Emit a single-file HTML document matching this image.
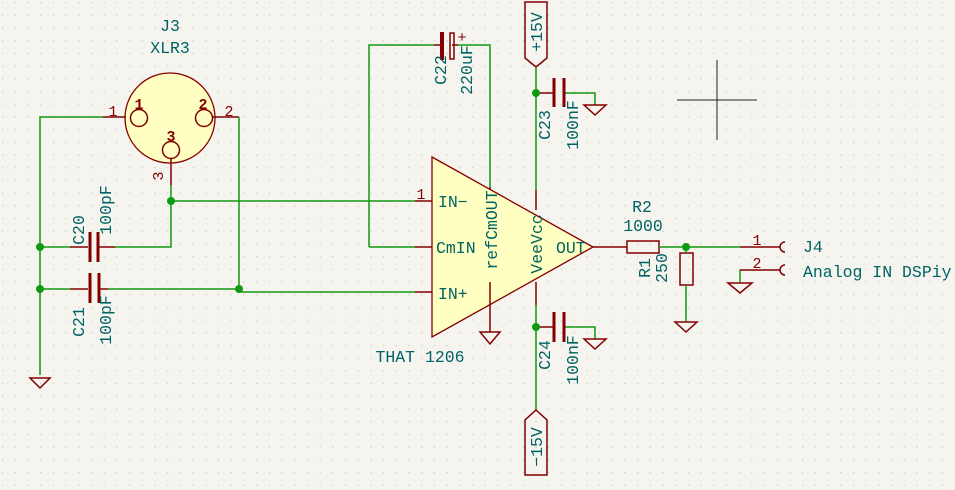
<!DOCTYPE html>
<html><head><meta charset="utf-8"><style>
html,body{margin:0;padding:0;background:#f5f4ef;}
svg{display:block;font-family:"Liberation Mono","DejaVu Sans Mono",monospace;}
.w{stroke:#109a10;stroke-width:1.5;fill:none}
.r{stroke:#840000;stroke-width:1.5;fill:none}
.t{fill:#006464;font-size:16.5px}
.p{fill:#840000;font-size:15px}
</style></head><body>
<svg width="955" height="490" viewBox="0 0 955 490" xmlns="http://www.w3.org/2000/svg">
<defs><pattern id="g" width="12.7" height="12.7" patternUnits="userSpaceOnUse" x="2" y="2"><rect width="1.2" height="1.2" fill="#c8c8c0"/></pattern></defs>
<rect width="955" height="490" fill="#f5f4ef"/>
<rect width="955" height="490" fill="url(#g)"/>

<!-- XLR3 -->
<text class="t" x="170" y="31" text-anchor="middle">J3</text>
<text class="t" x="170" y="53" text-anchor="middle">XLR3</text>
<circle cx="170" cy="118" r="45" fill="#ffffc2" stroke="#840000" stroke-width="1.3"/>
<circle cx="139" cy="118" r="8.5" class="r"/>
<circle cx="204" cy="118" r="8.5" class="r"/>
<circle cx="171" cy="150" r="8.5" class="r"/>
<text x="139" y="109" text-anchor="middle" fill="#840000" font-size="15" font-weight="bold">1</text>
<text x="203" y="109" text-anchor="middle" fill="#840000" font-size="15" font-weight="bold">2</text>
<text x="171" y="141" text-anchor="middle" fill="#840000" font-size="15" font-weight="bold">3</text>
<text class="p" x="113" y="116" text-anchor="middle">1</text>
<text class="p" x="229" y="116" text-anchor="middle">2</text>
<text class="p" transform="translate(163,176) rotate(-90)" text-anchor="middle">3</text>
<path class="r" d="M103 117H126M213 117H239M171 159V185"/>
<path class="w" d="M103 117H40V375M239 117V290M171 185V247H115M40 247H70M40 289H70M108 289H239M171 201H415M239 292H415M369 247H415M369 247V45H434M458 45H490V187"/>
<path class="r" d="M415 201H432M415 247H432M415 292H432M70 247H88M98 247H115M70 289H88M99 289H108M434 45H442M452 45H458"/>
<circle cx="40" cy="247" r="4" fill="#109a10"/>
<circle cx="40" cy="289" r="4" fill="#109a10"/>
<circle cx="239" cy="289" r="4" fill="#109a10"/>
<circle cx="171" cy="201" r="4" fill="#109a10"/>
<path class="r" d="M30 378H50L40 388Z"/>
<!-- C20 / C21 -->
<path stroke="#840000" stroke-width="3" d="M90 232V262M98 232V262M90 273V303M99 273V303"/>
<text class="t" transform="translate(84,230) rotate(-90)" text-anchor="middle">C20</text>
<text class="t" transform="translate(111,210) rotate(-90)" text-anchor="middle">100pF</text>
<text class="t" transform="translate(84,322) rotate(-90)" text-anchor="middle">C21</text>
<text class="t" transform="translate(111,320) rotate(-90)" text-anchor="middle">100pF</text>
<!-- C22 -->
<rect x="440" y="32" width="4" height="28" fill="#840000"/>
<rect x="450" y="33" width="4" height="26" class="r" stroke-width="1.2"/>
<text class="p" x="462" y="42" font-size="11" text-anchor="middle">+</text>
<text class="t" transform="translate(446,70) rotate(-90)" text-anchor="middle">C22</text>
<text class="t" transform="translate(472,70) rotate(-90)" text-anchor="middle">220uF</text>

<!-- Opamp -->
<path d="M432 157L593 247L432 337Z" fill="#ffffc2" stroke="#840000" stroke-width="1.3"/>
<text class="t" x="438" y="207">IN−</text>
<text class="t" x="436" y="253">CmIN</text>
<text class="t" x="438" y="299">IN+</text>
<text class="t" transform="translate(497,230) rotate(-90)" text-anchor="middle">refCmOUT</text>
<text class="t" transform="translate(542,244) rotate(-90)" text-anchor="middle">VeeVcc</text>
<text class="t" x="556" y="253">OUT</text>
<text class="p" x="421" y="199" text-anchor="middle">1</text>
<text class="t" x="420" y="362" text-anchor="middle">THAT 1206</text>
<path class="r" d="M490 187V190M490 282V332M480 332H500L490 344Z"/>

<!-- +15V -->
<path class="r" d="M525 2H547V58L536 67L525 58Z"/>
<text class="t" transform="translate(542,32) rotate(-90)" text-anchor="middle">+15V</text>
<path class="w" d="M536 67V190M536 305V410M563 93H595V105M563 327H595V339"/>
<path class="r" d="M536 190V210M536 282V305M536 93H553M536 327H553"/>
<path stroke="#840000" stroke-width="3" d="M554 78V107M564 78V107M554 312V342M564 312V342"/>
<path class="r" d="M584 105H606L595 115ZM584 339H606L595 349Z"/>
<circle cx="536" cy="93" r="4" fill="#109a10"/>
<circle cx="536" cy="327" r="4" fill="#109a10"/>
<text class="t" transform="translate(550,125) rotate(-90)" text-anchor="middle">C23</text>
<text class="t" transform="translate(578,125) rotate(-90)" text-anchor="middle">100nF</text>
<text class="t" transform="translate(550,355) rotate(-90)" text-anchor="middle">C24</text>
<text class="t" transform="translate(578,360) rotate(-90)" text-anchor="middle">100nF</text>
<!-- -15V -->
<path class="r" d="M536 410L547 420V475H525V420Z"/>
<text class="t" transform="translate(542,447) rotate(-90)" text-anchor="middle">−15V</text>

<!-- Output -->
<path class="r" d="M593 247H627"/>
<rect x="627" y="241" width="32" height="12" class="r" stroke-width="2.5"/>
<rect x="680" y="253" width="13" height="32" class="r" stroke-width="2.5"/>
<path class="w" d="M659 247H740M686 247V253M686 285V322M740 270V282"/>
<circle cx="686" cy="247" r="4" fill="#109a10"/>
<path class="r" d="M675 322H697L686 332ZM728 283H752L740 293Z"/>
<path class="r" d="M740 247H780M740 270H780"/>
<path class="r" d="M785 242A5 5 0 0 0 785 252M785 265A5 5 0 0 0 785 275"/>
<text class="t" x="642" y="212" text-anchor="middle">R2</text>
<text class="t" x="643" y="231" text-anchor="middle">1000</text>
<text class="t" transform="translate(650,268) rotate(-90)" text-anchor="middle">R1</text>
<text class="t" transform="translate(667,268) rotate(-90)" text-anchor="middle">250</text>
<text class="p" x="757" y="245" text-anchor="middle">1</text>
<text class="p" x="757" y="268" text-anchor="middle">2</text>
<text class="t" x="803" y="252">J4</text>
<text class="t" x="803" y="277">Analog IN DSPiy</text>

<!-- crosshair -->
<path stroke="#222" stroke-width="1" d="M677 100H757M717 60V140"/>
</svg>
</body></html>
